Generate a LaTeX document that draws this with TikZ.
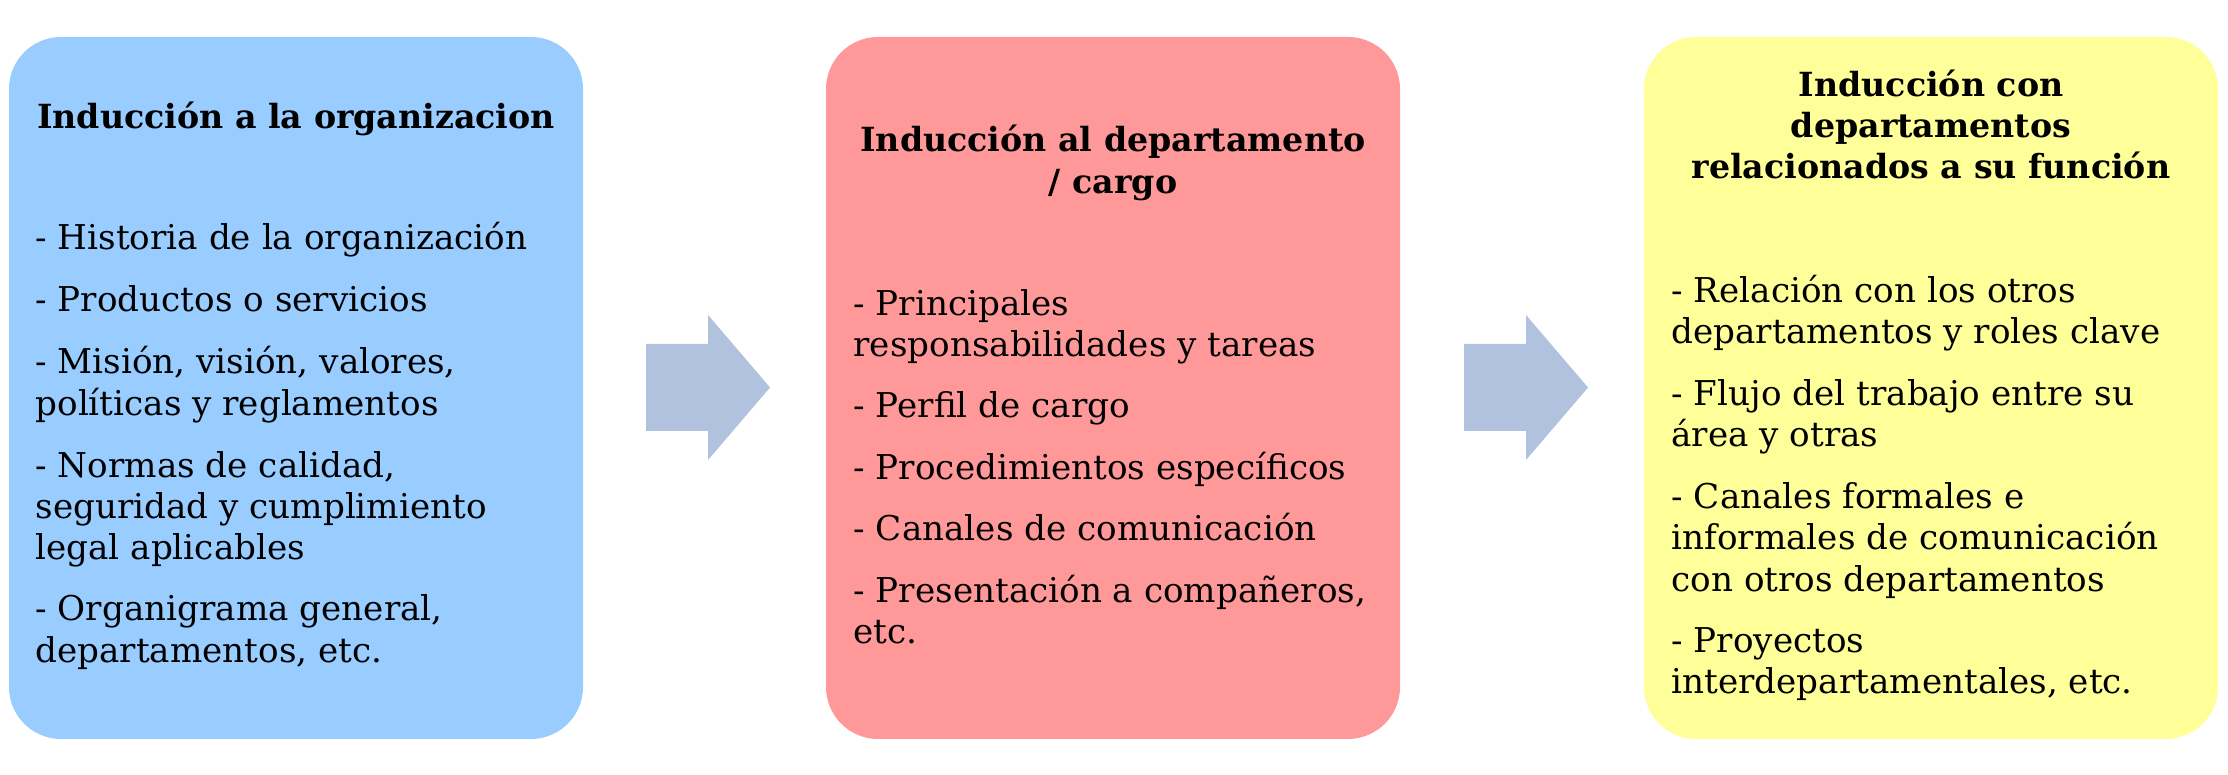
\documentclass[tikz,border=0pt]{standalone}
\usepackage{fontspec}
\setmainfont{DejaVu Serif}
\definecolor{boxblue}{HTML}{99CCFF}
\definecolor{boxpink}{HTML}{FF9999}
\definecolor{boxyellow}{HTML}{FFFF99}
\definecolor{arrowblue}{HTML}{B0C2DE}
\begin{document}
\begin{tikzpicture}[x=0.352pt,y=-0.352pt,
  card/.style={rounded corners=18.3pt},
  bigarrow/.style={fill=arrowblue},
  item/.style={anchor=base west, align=left, inner sep=0pt, font=\fontsize{12.03}{14.5}\selectfont},
  ttl/.style={anchor=base, align=center, inner sep=0pt, font=\bfseries\fontsize{11.7}{14.5}\selectfont}]
\useasboundingbox (0,0) rectangle (2228,775);
\fill[white] (0,0) rectangle (2228,775);
% boxes
\fill[card, boxblue] (9,37) rectangle (583,739);
\fill[card, boxpink] (826,37) rectangle (1400,739);
\fill[card, boxyellow] (1644,37) rectangle (2218,739);
% arrows
\fill[bigarrow] (646,344) -- (708,344) -- (708,315) -- (770,387.5) -- (708,460) -- (708,431) -- (646,431) -- cycle;
\fill[bigarrow] (1464,344) -- (1526,344) -- (1526,315) -- (1588,387.5) -- (1526,460) -- (1526,431) -- (1464,431) -- cycle;
% box 1 (anchor = baseline of the last line)
\node[ttl] (t1) at (296,129) {Inducción a la organizacion};
\node[item] (a1) at (35,250) {- Historia de la organización};
\node[item] (a2) at (35,312) {- Productos o servicios};
\node[item] (a3) at (35,415.2) {- Misión, visión, valores,\\políticas y reglamentos};
\node[item] (a4) at (35,559.4) {- Normas de calidad,\\seguridad y cumplimiento\\legal aplicables};
\node[item] (a5) at (35,662.2) {- Organigrama general,\\departamentos, etc.};
% box 2
\node[ttl] (t2) at (1113,193.2) {Inducción al departamento\\/ cargo};
\node[item] (b1) at (853,356.7) {- Principales\\responsabilidades y tareas};
\node[item] (b2) at (853,418) {- Perfil de cargo};
\node[item] (b3) at (853,479.5) {- Procedimientos específicos};
\node[item] (b4) at (853,541) {- Canales de comunicación};
\node[item] (b5) at (853,643.7) {- Presentación a compañeros,\\etc.};
% box 3
\node[ttl] (t3) at (1931,179) {Inducción con\\departamentos\\relacionados a su función};
\node[item] (c1) at (1671,343.9) {- Relación con los otros\\departamentos y roles clave};
\node[item] (c2) at (1671,446.9) {- Flujo del trabajo entre su\\área y otras};
\node[item] (c3) at (1671,591.1) {- Canales formales e\\informales de comunicación\\con otros departamentos};
\node[item] (c4) at (1671,694) {- Proyectos\\interdepartamentales, etc.};
\end{tikzpicture}
\end{document}
